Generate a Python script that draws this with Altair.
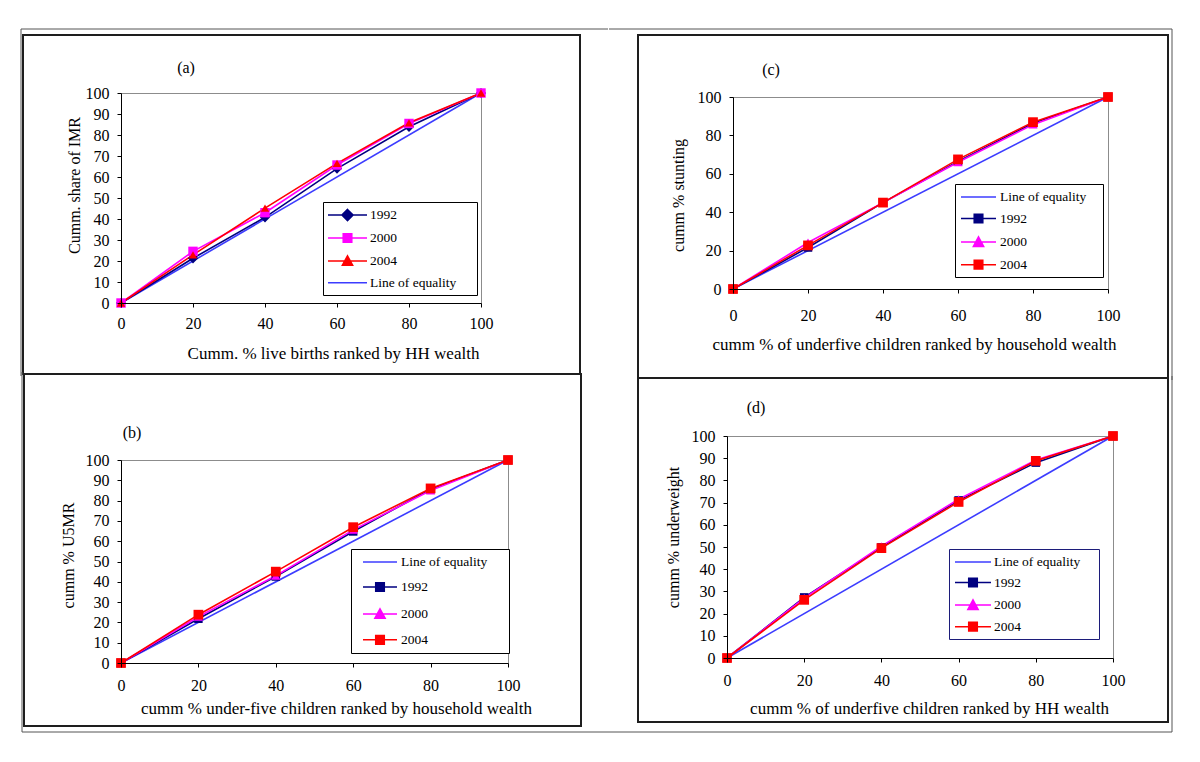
import math
import altair as alt
import pandas as pd

# ---------------- data ----------------
x_pct = [0, 20, 40, 60, 80, 100]
equality_x = [0, 100]
equality_y = [0, 100]

a_1992 = [0, 21.3, 40.8, 64.0, 83.9, 100]
a_2000 = [0, 24.6, 43.0, 65.7, 85.5, 100]
a_2004 = [0, 22.9, 45.2, 66.5, 85.8, 100]

b_1992 = [0, 21.8, 42.6, 64.8, 85.6, 100]
b_2000 = [0, 22.8, 43.0, 65.6, 85.0, 100]
b_2004 = [0, 23.8, 45.0, 66.9, 86.0, 100]

c_1992 = [0, 21.6, 45.0, 66.4, 86.3, 100]
c_2000 = [0, 24.2, 45.0, 66.0, 85.6, 100]
c_2004 = [0, 22.7, 45.0, 67.5, 86.9, 100]

d_1992 = [0, 27.3, 49.8, 71.0, 88.0, 100]
d_2000 = [0, 27.0, 50.4, 71.5, 89.2, 100]
d_2004 = [0, 26.2, 49.5, 70.3, 88.8, 100]

years = ["1992", "2000", "2004"]
equality_name = "Line of equality"

panel_labels = ["(a)", "(b)", "(c)", "(d)"]
y_titles = ["Cumm. share of IMR", "cumm % U5MR", "cumm % stunting", "cumm % underweight"]
x_titles = [
    "Cumm. % live births ranked by HH wealth",
    "cumm % under-five children ranked by household wealth",
    "cumm % of underfive children ranked by household wealth",
    "cumm % of underfive children ranked by HH wealth",
]
y_ticks_10 = [0, 10, 20, 30, 40, 50, 60, 70, 80, 90, 100]
y_ticks_20 = [0, 20, 40, 60, 80, 100]

legend_order_a = ["1992", "2000", "2004", "Line of equality"]
legend_order_bcd = ["Line of equality", "1992", "2000", "2004"]
markers_a = ["diamond", "square", "triangle-up"]
markers_bcd = ["square", "triangle-up", "square"]

# ---------------- style ----------------
FONT = "Liberation Serif"
COLORS = {"1992": "#000080", "2000": "#FF00FF", "2004": "#FF0000",
          "Line of equality": "#3c3cff"}
MARKER_SIZE = {"diamond": 105, "square": 72, "triangle-up": 95}
LEG_FS = 13.5
SYM_BASE = 14            # legend symbol base size -> 7 px per path unit
UNIT = SYM_BASE / 2.0
SIZE_SIG = max(math.ceil(SYM_BASE + 1.5), LEG_FS)
ENTRY_H = SIZE_SIG / 2 + LEG_FS / 2 + 2


def legend_path(kind, half_len, mk):
    L = half_len / UNIT
    s = mk / UNIT
    base = f"M{-L:.3f},0L{L:.3f},0"
    if kind == "line":
        return base
    if kind == "square":
        return base + f"M{-s:.3f},{-s:.3f}L{s:.3f},{-s:.3f}L{s:.3f},{s:.3f}L{-s:.3f},{s:.3f}Z"
    if kind == "diamond":
        t = s * 1.3
        return base + f"M0,{-t:.3f}L{t:.3f},0L0,{t:.3f}L{-t:.3f},0Z"
    t = s * 1.2
    return base + f"M0,{-t:.3f}L{t:.3f},{t*0.85:.3f}L{-t:.3f},{t*0.85:.3f}Z"


def build_panel(i, series_vals, markers, order, yticks, G):
    ox, oy = G["x0"], G["y100"]
    w, h = G["x100"] - ox, G["y0"] - oy

    def rx(v):
        return v - ox

    def ry(v):
        return v - oy

    rows = []
    for xv, yv in zip(equality_x, equality_y):
        rows.append({"x": xv, "y": yv, "series": equality_name})
    for name, vals in zip(years, series_vals):
        for xv, yv in zip(x_pct, vals):
            rows.append({"x": xv, "y": yv, "series": name})
    df = pd.DataFrame(rows)
    df_years = df[df["series"] != equality_name]

    xaxis = alt.Axis(values=x_pct, title=x_titles[i], grid=False, tickSize=4,
                     tickColor="black", domainColor="black", domainWidth=1,
                     labelFont=FONT, labelFontSize=16, labelColor="black",
                     labelPadding=G["xlab_pad"], labelBaseline="middle",
                     labelFlush=False, labelOverlap=False,
                     titleFont=FONT, titleFontSize=17, titleFontWeight="normal",
                     titleColor="black", titleX=rx(G["xt"][0]), titleY=G["xt"][1] - G["y0"],
                     titleAlign="center", titleBaseline="middle", zindex=1)
    yaxis = alt.Axis(values=yticks, title=y_titles[i], grid=False, tickSize=4,
                     tickColor="black", domainColor="black", domainWidth=1,
                     labelFont=FONT, labelFontSize=16, labelColor="black",
                     labelPadding=8, labelOverlap=False,
                     titleFont=FONT, titleFontSize=16, titleFontWeight="normal",
                     titleColor="black", titleX=rx(G["yt"][0]), titleY=ry(G["yt"][1]),
                     titleAngle=270, titleAlign="center", titleBaseline="middle", zindex=1)
    X = alt.X("x:Q", scale=alt.Scale(domain=[0, 100], nice=False, zero=False), axis=xaxis)
    Y = alt.Y("y:Q", scale=alt.Scale(domain=[0, 100], nice=False, zero=False), axis=yaxis)

    one = pd.DataFrame({"label": [panel_labels[i]]})

    def box(x1, y1, x2, y2):
        return dict(x=alt.value(rx(x1)), x2=alt.value(rx(x2)),
                    y=alt.value(ry(y1)), y2=alt.value(ry(y2)))

    cell = alt.Chart(one).mark_rect(fill="white", fillOpacity=0).encode(**box(*G["cell"]))
    frame = alt.Chart(one).mark_rect(fillOpacity=0, stroke="#1e1e1e",
                                     strokeWidth=2).encode(**box(*G["frame"]))
    outer = [alt.Chart(one).mark_rule(color="#555555", strokeWidth=1).encode(**box(*seg))
             for seg in G["outer"]]

    lines = alt.Chart(df).mark_line(strokeWidth=1.6).encode(
        x=X, y=Y,
        stroke=alt.Stroke("series:N",
                          scale=alt.Scale(domain=order, range=[COLORS[n] for n in order]),
                          legend=None),
    )
    pts = alt.Chart(df_years).mark_point(filled=True, opacity=1).encode(
        x=X, y=Y,
        fill=alt.Fill("series:N",
                      scale=alt.Scale(domain=years, range=[COLORS[n] for n in years]),
                      legend=None),
        shape=alt.Shape("series:N", scale=alt.Scale(domain=years, range=markers), legend=None),
        size=alt.Size("series:N",
                      scale=alt.Scale(domain=years, range=[MARKER_SIZE[m] for m in markers]),
                      legend=None),
    )

    # legend geometry
    box_left, first_row, pad = G["leg_left"], G["leg_row1"], 5
    content_x = box_left + pad
    sym_start, sym_len = G["sym"]
    sym_off = sym_start + sym_len / 2 - content_x - SIZE_SIG / 2
    label_rel = G["lab_start"] - content_x
    label_w = 83 * LEG_FS / 13
    box_w = 2 * pad + label_rel + label_w
    extra = max(G["leg_w"] - box_w, 1)

    kinds = {equality_name: "line"}
    kinds.update(dict(zip(years, markers)))
    paths = [legend_path(kinds[n], sym_len / 2, 4.3) for n in order]
    leg = alt.Legend(orient="none", legendX=rx(box_left), legendY=ry(first_row - pad - SIZE_SIG / 2),
                     title="M", titleOrient="right", titlePadding=0,
                     titleFontSize=extra / 0.89, titleOpacity=0, titleFont=FONT,
                     direction="vertical", strokeColor=G["legstroke"],
                     fillColor="white", padding=pad,
                     symbolSize=SYM_BASE ** 2, symbolStrokeWidth=1.5,
                     symbolOffset=sym_off,
                     labelOffset=label_rel - SIZE_SIG - sym_off,
                     labelFont=FONT, labelFontSize=LEG_FS, labelColor="black",
                     rowPadding=G["pitch"] - ENTRY_H)
    legend_layer = alt.Chart(df).mark_point(opacity=1).encode(
        fill=alt.Fill("series:N", scale=alt.Scale(domain=order, range=[COLORS[n] for n in order]),
                      legend=leg),
        stroke=alt.Stroke("series:N", scale=alt.Scale(domain=order, range=[COLORS[n] for n in order]),
                          legend=leg),
        shape=alt.Shape("series:N", scale=alt.Scale(domain=order, range=paths), legend=leg),
    ).transform_filter("false")

    label = alt.Chart(one).mark_text(font=FONT, fontSize=16, align="center",
                                     baseline="middle", color="black").encode(
        text="label:N", x=alt.value(rx(G["lab"][0])), y=alt.value(ry(G["lab"][1])))

    return alt.layer(cell, frame, *outer, lines, pts, legend_layer, label).resolve_scale(
        fill="independent", stroke="independent", shape="independent", size="independent"
    ).properties(width=w, height=h)


GA = dict(x0=121, x100=481, y100=93, y0=303, lab=(186, 68), yt=(74, 185), xt=(333, 353),
          xlab_pad=16, leg_left=323, leg_row1=215, leg_w=153, sym=(328, 39), lab_start=370,
          pitch=22.7, legstroke="black",
          cell=(17, 25, 608, 382), frame=(23, 35, 580, 374),
          outer=[(21, 29, 608, 29), (21, 29, 21, 376)])
GB = dict(x0=120, x100=507, y100=460, y0=663, lab=(131, 433), yt=(67, 555), xt=(335, 708),
          xlab_pad=18, leg_left=350, leg_row1=562, leg_w=157, sym=(362, 34), lab_start=400,
          pitch=26.7, legstroke="black",
          cell=(17, 370, 608, 736), frame=(23, 374, 580, 726),
          outer=[(21, 372, 21, 732), (21, 732, 608, 732)])
GC = dict(x0=732, x100=1107, y100=97, y0=289, lab=(770, 70), yt=(677, 195), xt=(913, 344),
          xlab_pad=22, leg_left=954, leg_row1=197, leg_w=147, sym=(960, 35), lab_start=999,
          pitch=23.3, legstroke="black",
          cell=(608, 25, 1175, 382), frame=(637, 35, 1167, 378),
          outer=[(608, 29, 1171, 29), (1171, 29, 1171, 380)])
GD = dict(x0=726, x100=1112, y100=436, y0=658, lab=(755, 408), yt=(672, 537), xt=(928, 708),
          xlab_pad=18, leg_left=948, leg_row1=562, leg_w=149, sym=(954, 36), lab_start=993,
          pitch=22.3, legstroke="#1c1c7a",
          cell=(608, 374, 1175, 736), frame=(637, 378, 1167, 722),
          outer=[(1171, 376, 1171, 732), (608, 732, 1171, 732)])

pa = build_panel(0, [a_1992, a_2000, a_2004], markers_a, legend_order_a, y_ticks_10, GA)
pb = build_panel(1, [b_1992, b_2000, b_2004], markers_bcd, legend_order_bcd, y_ticks_10, GB)
pc = build_panel(2, [c_1992, c_2000, c_2004], markers_bcd, legend_order_bcd, y_ticks_20, GC)
pdd = build_panel(3, [d_1992, d_2000, d_2004], markers_bcd, legend_order_bcd, y_ticks_10, GD)


def spacer():
    return alt.Chart(pd.DataFrame({"k": [0]})).mark_point(opacity=0).encode(
        x=alt.value(0), y=alt.value(0)
    ).properties(width=1, height=1, view=alt.ViewBackground(strokeOpacity=0))


chart = alt.concat(spacer(), spacer(), pa, pc, pb, pdd, columns=2,
                   spacing={"row": -14, "column": -2}, align="none", bounds="full")
chart = chart.resolve_scale(
    x="independent", y="independent", fill="independent", stroke="independent",
    shape="independent", size="independent"
).resolve_legend(fill="independent", stroke="independent", shape="independent",
                 size="independent")
chart = chart.configure_view(stroke="#8c8c8c", strokeWidth=1).properties(
    padding={"left": 8, "top": 16, "right": 5, "bottom": 5}, background="white")

chart.save("out.html", embed_options={"renderer": "svg", "actions": False})
